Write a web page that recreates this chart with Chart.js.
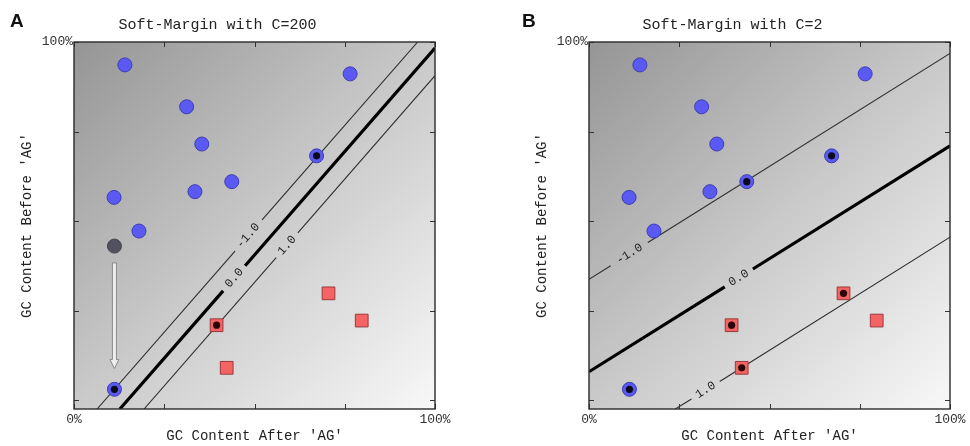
<!DOCTYPE html>
<html><head><meta charset="utf-8">
<script src="https://cdn.jsdelivr.net/npm/chart.js@4.4.0/dist/chart.umd.min.js"></script>
<style>
html,body{margin:0;padding:0;background:#fff;overflow:hidden;width:970px;height:446px}
#a{position:absolute;left:0;top:0}
#b{position:absolute;left:515px;top:0}
</style></head><body>
<canvas id="a" width="485" height="446"></canvas>
<canvas id="b" width="455" height="446"></canvas>
<script>
// ---- data (fractions of GC content) ----
const blueX = [0.141, 0.765, 0.312, 0.354, 0.672, 0.437, 0.335, 0.111, 0.180, 0.112];
const blueY = [0.936, 0.911, 0.819, 0.715, 0.682, 0.610, 0.582, 0.566, 0.472, 0.030];
const redX  = [0.705, 0.797, 0.395, 0.423];
const redY  = [0.298, 0.222, 0.209, 0.090];
const grayX = [0.112];
const grayY = [0.430];
const arrowX = [0.112, 0.112];
const arrowY = [0.383, 0.088];

const svBlueA = [4, 9];
const svRedA  = [2];
const svBlueB = [4, 5, 9];
const svRedB  = [0, 2, 3];

// contour lines panel A (C=200)
const lineANegX  = [0.064, 0.446, null, 0.521, 0.952];
const lineANegY  = [-0.025, 0.416, null, 0.503, 1.000];
const lineAZeroX = [0.127, 0.413, null, 0.474, 1.000];
const lineAZeroY = [-0.025, 0.305, null, 0.375, 0.983];
const lineAPosX  = [0.194, 0.560, null, 0.620, 1.000];
const lineAPosY  = [-0.025, 0.398, null, 0.467, 0.906];
const contourTextA = ['-1.0', '0.0', '1.0'];
const contourXA = [0.482, 0.444, 0.590];
const contourYA = [0.459, 0.341, 0.432];

// contour lines panel B (C=2)
const lineBNegX  = [0.000, 0.060, null, 0.163, 1.000];
const lineBNegY  = [0.337, 0.375, null, 0.440, 0.968];
const lineBZeroX = [0.000, 0.376, null, 0.454, 1.000];
const lineBZeroY = [0.079, 0.316, null, 0.366, 0.710];
const lineBPosX  = [0.239, 0.284, null, 0.362, 1.000];
const lineBPosY  = [-0.025, 0.003, null, 0.052, 0.455];
const contourTextB = ['-1.0', '0.0', '1.0'];
const contourXB = [0.112, 0.415, 0.323];
const contourYB = [0.408, 0.341, 0.028];

const xTicks = [0, 0.25, 0.5, 0.75, 1];
const xTickLabels = ['0%', '', '', '', '100%'];
const yTicks = [0, 0.25, 0.5, 0.75, 1];
const yTickLabels = ['', '', '', '', '100%'];

const MONO = '"Liberation Mono", "DejaVu Sans Mono", monospace';

function pts(xs, ys) { return xs.map((v, i) => (v === null ? {x: null, y: null} : {x: v, y: ys[i]})); }
function pick(idx, xs, ys) { return idx.map(i => ({x: xs[i], y: ys[i]})); }

const decor = {
  id: 'decor',
  beforeDatasetsDraw(chart, args, o) {
    const {ctx, chartArea: ca, scales: {x, y}} = chart;
    ctx.save();
    const g = ctx.createLinearGradient(ca.left, ca.top, ca.right, ca.bottom);
    g.addColorStop(0, '#959595');
    g.addColorStop(0.5, '#c9c9c9');
    g.addColorStop(1, '#f8f8f8');
    ctx.fillStyle = g;
    ctx.fillRect(ca.left, ca.top, ca.right - ca.left, ca.bottom - ca.top);
    if (o.arrow) {
      const cx = x.getPixelForValue(arrowX[0]);
      const y0 = y.getPixelForValue(arrowY[0]);
      const yt = y.getPixelForValue(arrowY[1]);
      ctx.beginPath();
      ctx.moveTo(cx - 2, y0); ctx.lineTo(cx - 2, yt - 9); ctx.lineTo(cx - 4.5, yt - 9);
      ctx.lineTo(cx, yt); ctx.lineTo(cx + 4.5, yt - 9); ctx.lineTo(cx + 2, yt - 9);
      ctx.lineTo(cx + 2, y0); ctx.closePath();
      ctx.fillStyle = '#eeeeee'; ctx.fill();
      ctx.strokeStyle = '#8a8a8a'; ctx.lineWidth = 1; ctx.stroke();
    }
    ctx.restore();
  },
  afterDatasetsDraw(chart, args, o) {
    const {ctx, chartArea: ca, scales: {x, y}} = chart;
    ctx.save();
    // contour labels
    ctx.font = '12px ' + MONO;
    ctx.fillStyle = '#222';
    ctx.textAlign = 'center';
    ctx.textBaseline = 'middle';
    o.texts.forEach((t, i) => {
      const lx = o.lines[i][0], ly = o.lines[i][1];
      const a = Math.atan2(y.getPixelForValue(ly[4]) - y.getPixelForValue(ly[0]),
                           x.getPixelForValue(lx[4]) - x.getPixelForValue(lx[0]));
      ctx.save();
      ctx.translate(x.getPixelForValue(o.tx[i]), y.getPixelForValue(o.ty[i]));
      ctx.rotate(a);
      ctx.fillText(t, 0, 0);
      ctx.restore();
    });
    // inward tick marks
    ctx.strokeStyle = '#333';
    ctx.lineWidth = 1;
    ctx.beginPath();
    xTicks.forEach(v => {
      const px = Math.round(x.getPixelForValue(v)) + 0.5;
      ctx.moveTo(px, ca.bottom); ctx.lineTo(px, ca.bottom - 5);
      ctx.moveTo(px, ca.top); ctx.lineTo(px, ca.top + 5);
    });
    yTicks.forEach(v => {
      const py = Math.round(y.getPixelForValue(v)) + 0.5;
      ctx.moveTo(ca.left, py); ctx.lineTo(ca.left + 5, py);
      ctx.moveTo(ca.right, py); ctx.lineTo(ca.right - 5, py);
    });
    ctx.stroke();
    ctx.lineWidth = 1.4;
    ctx.strokeStyle = '#2a2a2a';
    ctx.strokeRect(ca.left, ca.top, ca.right - ca.left, ca.bottom - ca.top);
    // panel letter
    ctx.font = 'bold 19px "Liberation Sans", Arial, sans-serif';
    ctx.fillStyle = '#111';
    ctx.textAlign = 'left';
    ctx.textBaseline = 'alphabetic';
    ctx.fillText(o.letter, o.letterX, 27);
    ctx.restore();
  }
};

function makeChart(id, cfg) {
  const datasets = [
    {data: pick(cfg.svBlue, blueX, blueY), pointStyle: 'circle', pointRadius: 3.6,
     backgroundColor: '#0a0a1a', borderColor: '#0a0a1a', borderWidth: 0},
    {data: pick(cfg.svRed, redX, redY), pointStyle: 'circle', pointRadius: 3.6,
     backgroundColor: '#2a0505', borderColor: '#2a0505', borderWidth: 0},
    {data: pts(blueX, blueY), pointStyle: 'circle', pointRadius: 7,
     backgroundColor: '#5a5af2', borderColor: '#3c3cb4', borderWidth: 1},
    {data: pts(redX, redY), pointStyle: 'rect', pointRadius: 9,
     backgroundColor: '#f46464', borderColor: '#9a3a3a', borderWidth: 1},
  ];
  if (cfg.gray) datasets.push({data: pts(grayX, grayY), pointStyle: 'circle', pointRadius: 7,
     backgroundColor: '#52525e', borderColor: '#45454f', borderWidth: 1});
  cfg.lines.forEach((l, i) => datasets.push({
    data: pts(l[0], l[1]), showLine: true, pointRadius: 0, spanGaps: false, clip: 0,
    borderColor: i === 1 ? '#000' : '#2e2e2e', borderWidth: i === 1 ? 3.2 : 1.1, fill: false
  }));
  return new Chart(document.getElementById(id), {
    type: 'scatter',
    data: {datasets},
    plugins: [decor],
    options: {
      responsive: false, animation: false, events: [], devicePixelRatio: 1,
      layout: {padding: {left: 0, right: cfg.padRight, top: 0, bottom: 0}},
      plugins: {
        legend: {display: false}, tooltip: {enabled: false},
        title: {display: true, text: cfg.title, color: '#222',
                font: {family: MONO, size: 15, weight: 'normal', lineHeight: 1.2},
                padding: {top: 16, bottom: 8}},
        decor: {letter: cfg.letter, letterX: cfg.letterX, arrow: cfg.gray,
                texts: cfg.texts, tx: cfg.tx, ty: cfg.ty, lines: cfg.lines}
      },
      scales: {
        x: {type: 'linear', min: 0, max: 1,
            grid: {display: false, drawTicks: false}, border: {display: false},
            afterBuildTicks: s => { s.ticks = xTicks.map(v => ({value: v})); },
            afterFit: s => { s.height = 37; },
            ticks: {autoSkip: false, maxRotation: 0, padding: 3, color: '#333',
                    font: {family: MONO, size: 13}, callback: (v, i) => xTickLabels[i]},
            title: {display: true, text: "GC Content After 'AG'", color: '#222',
                    font: {family: MONO, size: 14, lineHeight: 1.2}, padding: {top: 0, bottom: 1.6}}},
        y: {type: 'linear', min: -0.025, max: 1,
            grid: {display: false, drawTicks: false}, border: {display: false},
            afterBuildTicks: s => { s.ticks = yTicks.map(v => ({value: v})); },
            afterFit: s => { s.width = 74; },
            ticks: {autoSkip: false, padding: 1, color: '#333',
                    font: {family: MONO, size: 13}, callback: (v, i) => yTickLabels[i]},
            title: {display: true, text: "GC Content Before 'AG'", color: '#222',
                    font: {family: MONO, size: 14, lineHeight: 1.2}, padding: {top: 18.6, bottom: 0}}}
      }
    }
  });
}

makeChart('a', {
  title: 'Soft-Margin with C=200', letter: 'A', letterX: 10, padRight: 50, gray: true,
  svBlue: svBlueA, svRed: svRedA,
  lines: [[lineANegX, lineANegY], [lineAZeroX, lineAZeroY], [lineAPosX, lineAPosY]],
  texts: contourTextA, tx: contourXA, ty: contourYA
});
makeChart('b', {
  title: 'Soft-Margin with C=2', letter: 'B', letterX: 7, padRight: 20, gray: false,
  svBlue: svBlueB, svRed: svRedB,
  lines: [[lineBNegX, lineBNegY], [lineBZeroX, lineBZeroY], [lineBPosX, lineBPosY]],
  texts: contourTextB, tx: contourXB, ty: contourYB
});
</script>
</body></html>
